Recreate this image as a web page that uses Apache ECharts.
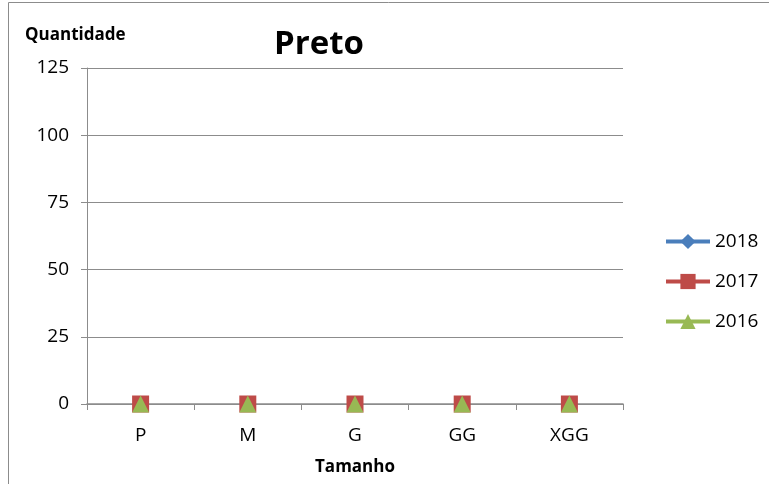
<!DOCTYPE html>
<html>
<head>
<meta charset="utf-8">
<style>
  html, body { margin: 0; padding: 0; background: #fff; }
  #chart { width: 769px; height: 484px; }
</style>
<script src="https://cdn.jsdelivr.net/npm/echarts@6/dist/echarts.min.js"></script>
</head>
<body>
<div id="chart"></div>
<script>
const categories = ['P', 'M', 'G', 'GG', 'XGG'];
const values2018 = [0, 0, 0, 0, 0];
const values2017 = [0, 0, 0, 0, 0];
const values2016 = [0, 0, 0, 0, 0];
const seriesNames = ['2018', '2017', '2016'];
const yTicks = { min: 0, max: 125, interval: 25 };

const font = '"Open Sans", "Liberation Sans", sans-serif';
const chart = echarts.init(document.getElementById('chart'));

// Lines lie on the zero baseline, underneath the axis; only markers show there.
function lineSeries(name, data, color, symbol, size) {
  return {
    name: name,
    type: 'line',
    data: data,
    symbol: symbol,
    symbolSize: size,
    lineStyle: { color: color, width: 4, opacity: 0 },
    itemStyle: { color: color },
    animation: false
  };
}

chart.setOption({
  animation: false,
  title: {
    text: 'Preto',
    left: 269, top: 23,
    textStyle: { fontFamily: font, fontSize: 33, fontWeight: 'bold', color: '#000' }
  },
  graphic: [{
    type: 'polyline',
    shape: { points: [[8.5, 484], [8.5, 2.5], [769, 2.5]] },
    style: { stroke: '#8c8c8c', lineWidth: 1, fill: null }
  }, {
    type: 'text',
    left: 25, top: 27,
    style: { text: 'Quantidade', font: 'bold 17px ' + font, fill: '#000' }
  }],
  legend: {
    orient: 'vertical',
    left: 664, top: 232,
    padding: 0,
    itemGap: 21,
    itemWidth: 44, itemHeight: 19,
    lineStyle: { opacity: 1, width: 4 },
    textStyle: { fontFamily: font, fontSize: 19, color: '#000', lineHeight: 19 },
    data: seriesNames
  },
  grid: { left: 87, right: 146, top: 68, bottom: 80 },
  xAxis: {
    type: 'category',
    data: categories,
    boundaryGap: true,
    name: 'Tamanho',
    nameLocation: 'middle',
    nameGap: 55,
    nameTextStyle: { fontFamily: font, fontSize: 17, fontWeight: 'bold', color: '#000' },
    axisLine: { lineStyle: { color: '#8c8c8c', width: 1.5 } },
    axisTick: { show: true, length: 6, alignWithLabel: false, lineStyle: { color: '#8c8c8c' } },
    axisLabel: { fontFamily: font, fontSize: 19, color: '#000', margin: 22 }
  },
  yAxis: {
    type: 'value',
    min: yTicks.min, max: yTicks.max, interval: yTicks.interval,
    axisLine: { show: true, lineStyle: { color: '#8c8c8c' } },
    axisTick: { show: true, inside: false, length: 6, lineStyle: { color: '#8c8c8c' } },
    splitLine: { lineStyle: { color: '#8c8c8c' } },
    axisLabel: { fontFamily: font, fontSize: 19, color: '#000', margin: 18 }
  },
  series: [
    lineSeries(seriesNames[0], values2018, '#4A7EBB', 'diamond', 16),
    lineSeries(seriesNames[1], values2017, '#BE4B48', 'rect', 17),
    lineSeries(seriesNames[2], values2016, '#98B954', 'triangle', 17)
  ]
});
</script>
</body>
</html>
